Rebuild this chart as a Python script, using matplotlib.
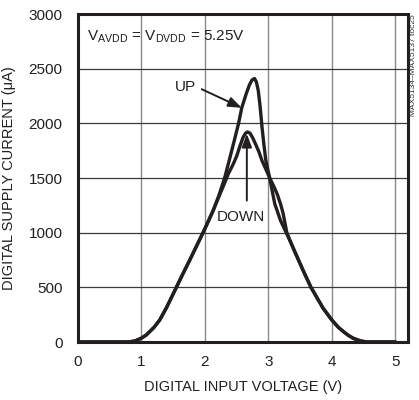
import matplotlib
matplotlib.use("Agg")
import matplotlib.pyplot as plt

up_v = [0, 0.80, 0.90, 1.00, 1.08, 1.20, 1.29, 1.40, 1.55, 1.65, 1.76, 1.87, 1.97, 2.05, 2.13, 2.22, 2.31, 2.40, 2.47, 2.53, 2.58, 2.65, 2.70, 2.74, 2.78, 2.81, 2.84, 2.87, 2.90, 2.93, 2.96, 3.02, 3.06, 3.10, 3.15, 3.19, 3.24, 3.28, 3.33, 3.42, 3.55, 3.67, 3.77, 3.86, 4.00, 4.10, 4.18, 4.26, 4.34, 4.45, 4.55, 5.0]
up_i = [0, 0, 10, 35, 66, 135, 203, 320, 500, 620, 748, 880, 1000, 1100, 1203, 1340, 1500, 1700, 1860, 2000, 2142, 2270, 2350, 2395, 2410, 2380, 2300, 2150, 1960, 1800, 1657, 1500, 1380, 1264, 1180, 1112, 1050, 1000, 940, 820, 650, 500, 400, 310, 200, 135, 96, 60, 33, 10, 0, 0]

down_v = [0, 0.80, 0.90, 1.00, 1.08, 1.20, 1.29, 1.40, 1.55, 1.65, 1.76, 1.87, 1.97, 2.05, 2.13, 2.22, 2.30, 2.37, 2.44, 2.50, 2.55, 2.60, 2.64, 2.67, 2.71, 2.75, 2.79, 2.85, 2.90, 2.96, 3.02, 3.08, 3.14, 3.19, 3.23, 3.26, 3.29, 3.33, 3.42, 3.55, 3.67, 3.77, 3.86, 4.00, 4.10, 4.18, 4.26, 4.34, 4.45, 4.55, 5.0]
down_i = [0, 0, 10, 35, 66, 135, 203, 320, 500, 620, 748, 880, 1000, 1100, 1203, 1330, 1440, 1540, 1620, 1700, 1790, 1870, 1910, 1921, 1910, 1870, 1820, 1740, 1657, 1580, 1500, 1430, 1350, 1264, 1180, 1090, 1000, 940, 820, 650, 500, 400, 310, 200, 135, 96, 60, 33, 10, 0, 0]

x_ticks = [0, 1, 2, 3, 4, 5]
y_ticks = [0, 500, 1000, 1500, 2000, 2500, 3000]

plt.rcParams['font.family'] = ['Liberation Sans', 'DejaVu Sans']
plt.rcParams['mathtext.fontset'] = 'custom'
plt.rcParams['mathtext.rm'] = 'Liberation Sans'

INK = '#231f20'

fig = plt.figure(figsize=(4.19, 4.0), dpi=100)
ax = fig.add_axes([0.186, 0.145, 0.788, 0.82])

ax.set_xlim(0, 5.2)
ax.set_ylim(0, 3000)
ax.set_xticks(x_ticks)
ax.set_yticks(y_ticks)
ax.tick_params(axis='both', length=0, labelsize=11, colors=INK)
ax.tick_params(axis='y', pad=11)
ax.tick_params(axis='x', pad=9)
for s in ax.spines.values():
    s.set_linewidth(2.2)
    s.set_color(INK)

for xv in x_ticks[1:]:
    ax.axvline(xv, color='#8a8a8a', lw=1.0, zorder=1)
for yv in y_ticks[1:-1]:
    ax.axhline(yv, color='#3a3a3a', lw=0.9, zorder=1)

ax.plot(up_v, up_i, color=INK, lw=2.4, zorder=3, solid_joinstyle='round', solid_capstyle='round')
ax.plot(down_v, down_i, color=INK, lw=2.4, zorder=3, solid_joinstyle='round', solid_capstyle='round')

ax.set_xlabel('DIGITAL INPUT VOLTAGE (V)', fontsize=10.5, labelpad=8, color=INK)
ax.set_ylabel('DIGITAL SUPPLY CURRENT (\u03bcA)', fontsize=10.5, labelpad=9, color=INK)

ax.text(0.15, 2790, r'V$_{\rm AVDD}$ = V$_{\rm DVDD}$ = 5.25V', fontsize=11, va='center', ha='left', zorder=5, color=INK)

ax.text(1.69, 2330, 'UP', fontsize=11, ha='center', va='center', color=INK, zorder=5)
ax.annotate('', xy=(2.58, 2142), xytext=(1.95, 2312),
            arrowprops=dict(arrowstyle='-|>,head_length=0.8,head_width=0.3', color=INK, lw=1.4,
                            shrinkA=0, shrinkB=0), zorder=5)
ax.text(2.57, 1144, 'DOWN', fontsize=11, ha='center', va='center', color=INK, zorder=5)
ax.annotate('', xy=(2.66, 1905), xytext=(2.66, 1294),
            arrowprops=dict(arrowstyle='-|>,head_length=0.8,head_width=0.3', color=INK, lw=1.4,
                            shrinkA=0, shrinkB=0), zorder=5)

fig.text(0.986, 0.965, 'MAX5134\u2013MAX5137 toc25', rotation=90, fontsize=6, ha='center', va='top', color='#333333')

fig.savefig('out.png', dpi=100)
